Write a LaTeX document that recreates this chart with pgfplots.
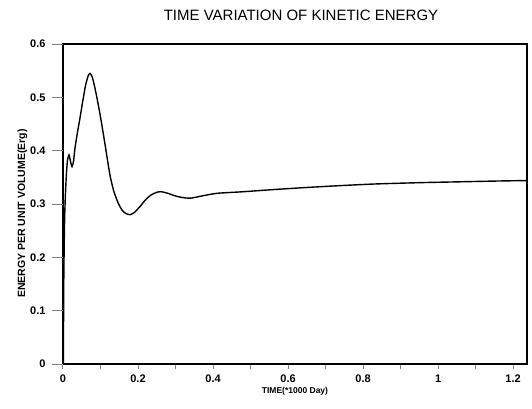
\documentclass[border=0pt]{standalone}
\usepackage{pgfplots}
\pgfplotsset{compat=1.18}
\usepackage{fontspec}
\setmainfont{Liberation Sans}

\begin{document}
\begin{tikzpicture}
\begin{axis}[
    at={(0,0)}, anchor=south west,
    scale only axis,
    width=464pt, height=320pt,
    xmin=0, xmax=1.237,
    ymin=0, ymax=0.6,
    xtick={0,0.2,...,1.2},
    ytick={0,0.1,...,0.6},
    minor x tick num=1,
    tick align=outside,
    xtick pos=bottom, ytick pos=left,
    tick style={line width=1pt},
    major tick length=5pt,
    minor tick length=5pt,
    axis line style={line width=1.4pt},
    /pgf/number format/assume math mode=true,
    ticklabel style={font=\fontsize{11}{12}\selectfont\bfseries},
    xticklabel style={yshift=-2pt},
    yticklabel style={xshift=-9pt},
    title={TIME VARIATION OF KINETIC ENERGY},
    title style={font=\fontsize{15}{16}\selectfont, yshift=14pt, xshift=6pt},
    xlabel={TIME(*1000 Day)},
    xlabel style={font=\fontsize{8.5}{9}\selectfont\bfseries, yshift=2pt},
    ylabel={ENERGY PER UNIT VOLUME(Erg)},
    ylabel style={font=\fontsize{10.5}{11}\selectfont\bfseries, yshift=-4pt,
                  at={(ticklabel cs:0.47)}},
]
\addplot[black, line width=1.4pt, smooth, tension=0.4] coordinates {
(0.001,0.0) (0.002,0.15) (0.004,0.26) (0.006,0.31) (0.009,0.355)
(0.012,0.382) (0.016,0.392) (0.020,0.380) (0.024,0.370) (0.028,0.380)
(0.032,0.405) (0.038,0.432) (0.045,0.460) (0.052,0.490) (0.060,0.522)
(0.067,0.540) (0.072,0.545) (0.078,0.538) (0.085,0.518) (0.093,0.490)
(0.102,0.455) (0.112,0.412) (0.125,0.355) (0.135,0.325) (0.147,0.302)
(0.158,0.288) (0.168,0.282) (0.179,0.280) (0.190,0.284) (0.205,0.295)
(0.220,0.308) (0.235,0.317) (0.250,0.322) (0.262,0.323) (0.280,0.320)
(0.300,0.315) (0.320,0.312) (0.340,0.311) (0.370,0.315) (0.410,0.320)
(0.480,0.323) (0.560,0.327) (0.650,0.331) (0.740,0.3345) (0.830,0.3375)
(0.950,0.340) (1.050,0.3415) (1.150,0.343) (1.237,0.344)
};
\node[font=\fontsize{9}{9}\selectfont] at (axis cs:1.1,-0.025) {/};
\end{axis}
% longer y ticks, as in the reference
\begin{axis}[
    at={(0,0)}, anchor=south west,
    scale only axis,
    width=464pt, height=320pt,
    xmin=0, xmax=1.237,
    ymin=0, ymax=0.6,
    axis line style={draw=none},
    xtick=\empty,
    ytick={0,0.1,...,0.6},
    yticklabels={},
    ytick pos=left,
    tick align=outside,
    major tick length=11pt,
    tick style={line width=1pt},
]
\end{axis}
\pgfresetboundingbox
\path (-63pt,-44pt) rectangle (469pt,364pt);
\end{tikzpicture}
\end{document}
